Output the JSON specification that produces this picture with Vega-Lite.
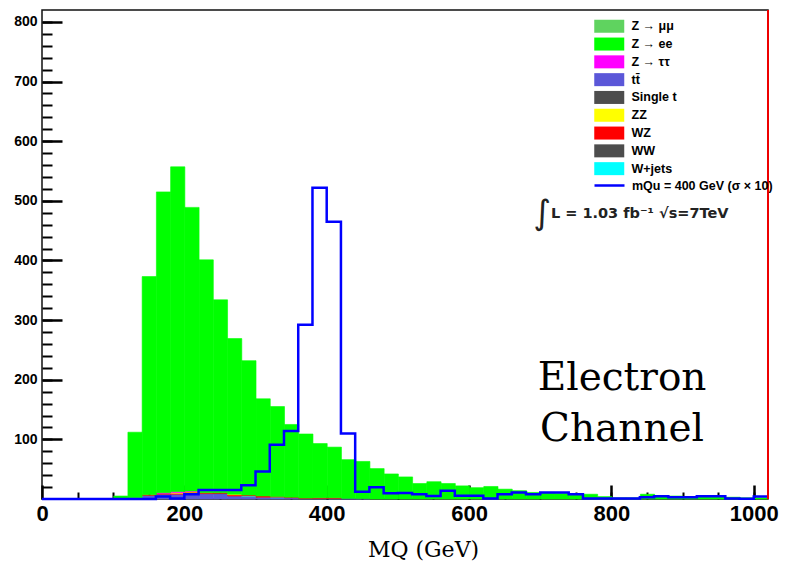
{
  "$schema": "https://vega.github.io/schema/vega-lite/v6.json",
  "width": 726,
  "height": 489,
  "autosize": {"type": "none"},
  "padding": {"left": 42, "top": 10, "right": 22, "bottom": 70},
  "background": "white",
  "config": {
    "view": {"stroke": "#111", "strokeWidth": 1.5},
    "axis": {"domain": false, "grid": false, "ticks": true, "tickOpacity": 1, "zindex": 2},
    "legend": {"labelFont": "Liberation Sans", "labelFontWeight": "bold", "labelFontSize": 12.5, "labelColor": "#000", "padding": 0}
  },
  "datasets": {
    "bkg": [
      {"lo":120,"hi":140,"p":"tt̄","n":2},{"lo":140,"hi":160,"p":"tt̄","n":6},{"lo":160,"hi":180,"p":"tt̄","n":8},{"lo":180,"hi":200,"p":"tt̄","n":8},{"lo":200,"hi":220,"p":"tt̄","n":9},{"lo":220,"hi":240,"p":"tt̄","n":9},{"lo":240,"hi":260,"p":"tt̄","n":9},{"lo":260,"hi":280,"p":"tt̄","n":5},{"lo":280,"hi":300,"p":"tt̄","n":4},{"lo":300,"hi":320,"p":"tt̄","n":3},{"lo":320,"hi":340,"p":"tt̄","n":2},{"lo":340,"hi":360,"p":"tt̄","n":2},{"lo":360,"hi":380,"p":"tt̄","n":1},{"lo":380,"hi":400,"p":"tt̄","n":1},{"lo":400,"hi":420,"p":"tt̄","n":1},{"lo":420,"hi":440,"p":"tt̄","n":1},{"lo":440,"hi":460,"p":"tt̄","n":0.5},
      {"lo":280,"hi":300,"p":"W+jets","n":1},{"lo":320,"hi":340,"p":"W+jets","n":1},
      {"lo":240,"hi":260,"p":"WW","n":0.5},
      {"lo":200,"hi":220,"p":"Single t","n":0.5},
      {"lo":140,"hi":160,"p":"WZ","n":1},{"lo":160,"hi":180,"p":"WZ","n":1.5},{"lo":180,"hi":200,"p":"WZ","n":1.5},{"lo":200,"hi":220,"p":"WZ","n":2},{"lo":220,"hi":240,"p":"WZ","n":1.5},{"lo":240,"hi":260,"p":"WZ","n":1},{"lo":260,"hi":280,"p":"WZ","n":2},{"lo":280,"hi":300,"p":"WZ","n":1.5},{"lo":300,"hi":320,"p":"WZ","n":2},{"lo":320,"hi":340,"p":"WZ","n":1},{"lo":340,"hi":360,"p":"WZ","n":1},{"lo":360,"hi":380,"p":"WZ","n":0.5},{"lo":380,"hi":400,"p":"WZ","n":1},{"lo":400,"hi":420,"p":"WZ","n":1},
      {"lo":180,"hi":200,"p":"ZZ","n":1},{"lo":200,"hi":220,"p":"ZZ","n":1},{"lo":260,"hi":280,"p":"ZZ","n":1},
      {"lo":160,"hi":180,"p":"Z → ττ","n":1},{"lo":180,"hi":200,"p":"Z → ττ","n":2},{"lo":200,"hi":220,"p":"Z → ττ","n":1},
      {"lo":100,"hi":120,"p":"Z → ee","n":5},{"lo":120,"hi":140,"p":"Z → ee","n":110},{"lo":140,"hi":160,"p":"Z → ee","n":366},{"lo":160,"hi":180,"p":"Z → ee","n":504.5},{"lo":180,"hi":200,"p":"Z → ee","n":544.5},{"lo":200,"hi":220,"p":"Z → ee","n":475.5},{"lo":220,"hi":240,"p":"Z → ee","n":390.5},{"lo":240,"hi":260,"p":"Z → ee","n":323.5},{"lo":260,"hi":280,"p":"Z → ee","n":261},{"lo":280,"hi":300,"p":"Z → ee","n":225.5},{"lo":300,"hi":320,"p":"Z → ee","n":163},{"lo":320,"hi":340,"p":"Z → ee","n":151},{"lo":340,"hi":360,"p":"Z → ee","n":122},{"lo":360,"hi":380,"p":"Z → ee","n":107.5},{"lo":380,"hi":400,"p":"Z → ee","n":91},{"lo":400,"hi":420,"p":"Z → ee","n":85},{"lo":420,"hi":440,"p":"Z → ee","n":65},{"lo":440,"hi":460,"p":"Z → ee","n":62.5},{"lo":460,"hi":480,"p":"Z → ee","n":51},{"lo":480,"hi":500,"p":"Z → ee","n":42},{"lo":500,"hi":520,"p":"Z → ee","n":37},{"lo":520,"hi":540,"p":"Z → ee","n":26},{"lo":540,"hi":560,"p":"Z → ee","n":29},{"lo":560,"hi":580,"p":"Z → ee","n":26},{"lo":580,"hi":600,"p":"Z → ee","n":22},{"lo":600,"hi":620,"p":"Z → ee","n":19},{"lo":620,"hi":640,"p":"Z → ee","n":21},{"lo":640,"hi":660,"p":"Z → ee","n":16.5},{"lo":660,"hi":680,"p":"Z → ee","n":14},{"lo":680,"hi":700,"p":"Z → ee","n":11},{"lo":700,"hi":720,"p":"Z → ee","n":11},{"lo":720,"hi":740,"p":"Z → ee","n":9.5},{"lo":740,"hi":760,"p":"Z → ee","n":8},{"lo":760,"hi":780,"p":"Z → ee","n":8},{"lo":780,"hi":800,"p":"Z → ee","n":4},{"lo":800,"hi":820,"p":"Z → ee","n":2},{"lo":820,"hi":840,"p":"Z → ee","n":2},{"lo":840,"hi":860,"p":"Z → ee","n":8},{"lo":860,"hi":880,"p":"Z → ee","n":4},{"lo":880,"hi":900,"p":"Z → ee","n":5},{"lo":900,"hi":920,"p":"Z → ee","n":3},{"lo":920,"hi":940,"p":"Z → ee","n":4},{"lo":940,"hi":960,"p":"Z → ee","n":4},{"lo":960,"hi":980,"p":"Z → ee","n":3},{"lo":980,"hi":1000,"p":"Z → ee","n":2},{"lo":1000,"hi":1020,"p":"Z → ee","n":2}
    ],
    "sig": [
      {"lo":0,"n":0},{"lo":20,"n":0},{"lo":40,"n":0},{"lo":60,"n":0},{"lo":80,"n":0},{"lo":100,"n":0},{"lo":120,"n":0},{"lo":140,"n":0},{"lo":160,"n":4},{"lo":180,"n":1},{"lo":200,"n":8},{"lo":220,"n":15},{"lo":240,"n":15},{"lo":260,"n":15},{"lo":280,"n":23},{"lo":300,"n":46},{"lo":320,"n":91},{"lo":340,"n":114},{"lo":360,"n":292},{"lo":380,"n":522},{"lo":400,"n":465},{"lo":420,"n":110},{"lo":440,"n":12},{"lo":460,"n":19.5},{"lo":480,"n":9.5},{"lo":500,"n":10},{"lo":520,"n":8},{"lo":540,"n":5},{"lo":560,"n":14},{"lo":580,"n":5.5},{"lo":600,"n":5.5},{"lo":620,"n":1},{"lo":640,"n":8},{"lo":660,"n":11},{"lo":680,"n":8},{"lo":700,"n":11},{"lo":720,"n":11},{"lo":740,"n":8},{"lo":760,"n":1},{"lo":780,"n":1},{"lo":800,"n":1},{"lo":820,"n":1},{"lo":840,"n":3},{"lo":860,"n":4.5},{"lo":880,"n":3},{"lo":900,"n":3},{"lo":920,"n":4.5},{"lo":940,"n":4.5},{"lo":960,"n":1},{"lo":980,"n":0.5},{"lo":1000,"n":4},{"lo":1020,"n":4}
    ]
  },
  "resolve": {"axis": {"x": "independent", "y": "independent"}, "scale": {"stroke": "independent"}},
  "layer": [
    {
      "data": {"name": "bkg"},
      "transform": [{"calculate": "indexof(['tt̄', 'W+jets', 'WW', 'Single t', 'WZ', 'ZZ', 'Z → ττ', 'Z → μμ', 'Z → ee'], datum.p)", "as": "stackOrder"}],
      "mark": {"type": "bar", "binSpacing": 0, "strokeWidth": 0.6},
      "encoding": {
        "x": {"field": "lo", "type": "quantitative", "bin": {"binned": true, "step": 20},
              "scale": {"domain": [0, 1020], "nice": false, "zero": false},
              "axis": {"orient": "bottom", "offset": -14, "values": [0, 200, 400, 600, 800, 1000], "format": "d", "ticks": true, "tickSize": 14, "labelPadding": 4.5,
                       "tickColor": "black", "tickWidth": 2.5, "tickOpacity": 1,
                       "labelFont": "Liberation Sans", "labelFontWeight": "bold", "labelFontSize": 22, "labelColor": "#000",
                       "labelFlush": false, "labelOverlap": false,
                       "title": "MQ (GeV)", "titleFont": "DejaVu Serif", "titleFontWeight": "normal", "titleFontSize": 22,
                       "titleColor": "#000", "titleX": 381, "titleY": 71, "titleBaseline": "alphabetic", "titleAlign": "center"}},
        "x2": {"field": "hi"},
        "y": {"field": "n", "type": "quantitative", "stack": "zero",
              "scale": {"domain": [0, 820], "nice": false},
              "axis": {"orient": "left", "offset": -20, "values": [100, 200, 300, 400, 500, 600, 700, 800], "ticks": true, "tickSize": 20, "labelPadding": 5,
                       "tickColor": "black", "tickWidth": 2.5, "tickOpacity": 1,
                       "labelFont": "Liberation Sans", "labelFontWeight": "bold", "labelFontSize": 14, "labelColor": "#000", "title": null}},
        "color": {"field": "p", "type": "nominal",
                  "scale": {"domain": ["Z → μμ", "Z → ee", "Z → ττ", "tt̄", "Single t", "ZZ", "WZ", "WW", "W+jets"],
                            "range": ["#5fd35f", "#00ff00", "#ff00ff", "#5b57d8", "#4d4d4d", "#ffff00", "#ff0000", "#4d4d4d", "#00ffff"]},
                  "legend": {"orient": "none", "legendX": 561, "legendY": 10, "title": null,
                             "symbolType": "M-3,-1.3H3V1.3H-3Z", "symbolSize": 100, "symbolStrokeWidth": 0,
                             "labelOffset": 16, "rowPadding": 3.8}},
        "stroke": {"field": "p", "type": "nominal",
                   "scale": {"domain": ["Z → μμ", "Z → ee", "Z → ττ", "tt̄", "Single t", "ZZ", "WZ", "WW", "W+jets"],
                             "range": ["#5fd35f", "#00ff00", "#ff00ff", "#5b57d8", "#4d4d4d", "#ffff00", "#ff0000", "#4d4d4d", "#00ffff"]},
                   "legend": null},
        "order": {"field": "stackOrder", "type": "quantitative", "sort": "ascending"}
      }
    },
    {
      "data": {"name": "sig"},
      "mark": {"type": "line", "interpolate": "step-after", "strokeWidth": 2.5},
      "encoding": {
        "x": {"field": "lo", "type": "quantitative",
              "axis": {"orient": "bottom", "offset": -7, "values": [50,100,150,200,250,300,350,400,450,500,550,600,650,700,750,800,850,900,950,1000],
                       "ticks": true, "tickSize": 7, "tickColor": "black", "tickWidth": 2, "tickOpacity": 1, "labels": false, "title": null}},
        "y": {"field": "n", "type": "quantitative",
              "axis": {"orient": "left", "offset": -10, "values": [20,40,60,80,100,120,140,160,180,200,220,240,260,280,300,320,340,360,380,400,420,440,460,480,500,520,540,560,580,600,620,640,660,680,700,720,740,760,780,800],
                       "ticks": true, "tickSize": 10, "tickColor": "black", "tickWidth": 2, "tickOpacity": 1, "labels": false, "title": null}},
        "stroke": {"datum": "mQu = 400 GeV (σ × 10)", "type": "nominal",
                   "scale": {"range": ["#0000ff"]},
                   "legend": {"orient": "none", "legendX": 561, "legendY": 169, "title": null,
                              "symbolType": "M-3,0H3", "symbolSize": 100, "symbolStrokeWidth": 2.5,
                              "labelOffset": 16}}
      }
    },
    {
      "data": {"values": [{}]},
      "mark": {"type": "rule", "color": "#ee0000", "strokeWidth": 2},
      "encoding": {"x": {"datum": 1020, "type": "quantitative", "axis": null}}
    },
    {
      "data": {"values": [{}]},
      "mark": {"type": "text", "text": "∫", "font": "DejaVu Sans", "fontSize": 34, "align": "center", "baseline": "middle", "color": "#222"},
      "encoding": {"x": {"datum": 703, "type": "quantitative", "axis": null}, "y": {"datum": 478, "type": "quantitative", "axis": null}}
    },
    {
      "data": {"values": [{}]},
      "mark": {"type": "text", "text": "L = 1.03 fb⁻¹    √s=7TeV", "font": "DejaVu Sans", "fontWeight": "bold", "fontSize": 14.5, "align": "left", "baseline": "middle", "color": "#222"},
      "encoding": {"x": {"datum": 715, "type": "quantitative", "axis": null}, "y": {"datum": 478, "type": "quantitative", "axis": null}}
    },
    {
      "data": {"values": [{}]},
      "mark": {"type": "text", "text": ["Electron", "Channel"], "font": "DejaVu Serif", "fontSize": 39, "lineHeight": 51, "align": "center", "baseline": "alphabetic", "color": "#000"},
      "encoding": {"x": {"datum": 815, "type": "quantitative", "axis": null}, "y": {"datum": 182, "type": "quantitative", "axis": null}}
    }
  ]
}
